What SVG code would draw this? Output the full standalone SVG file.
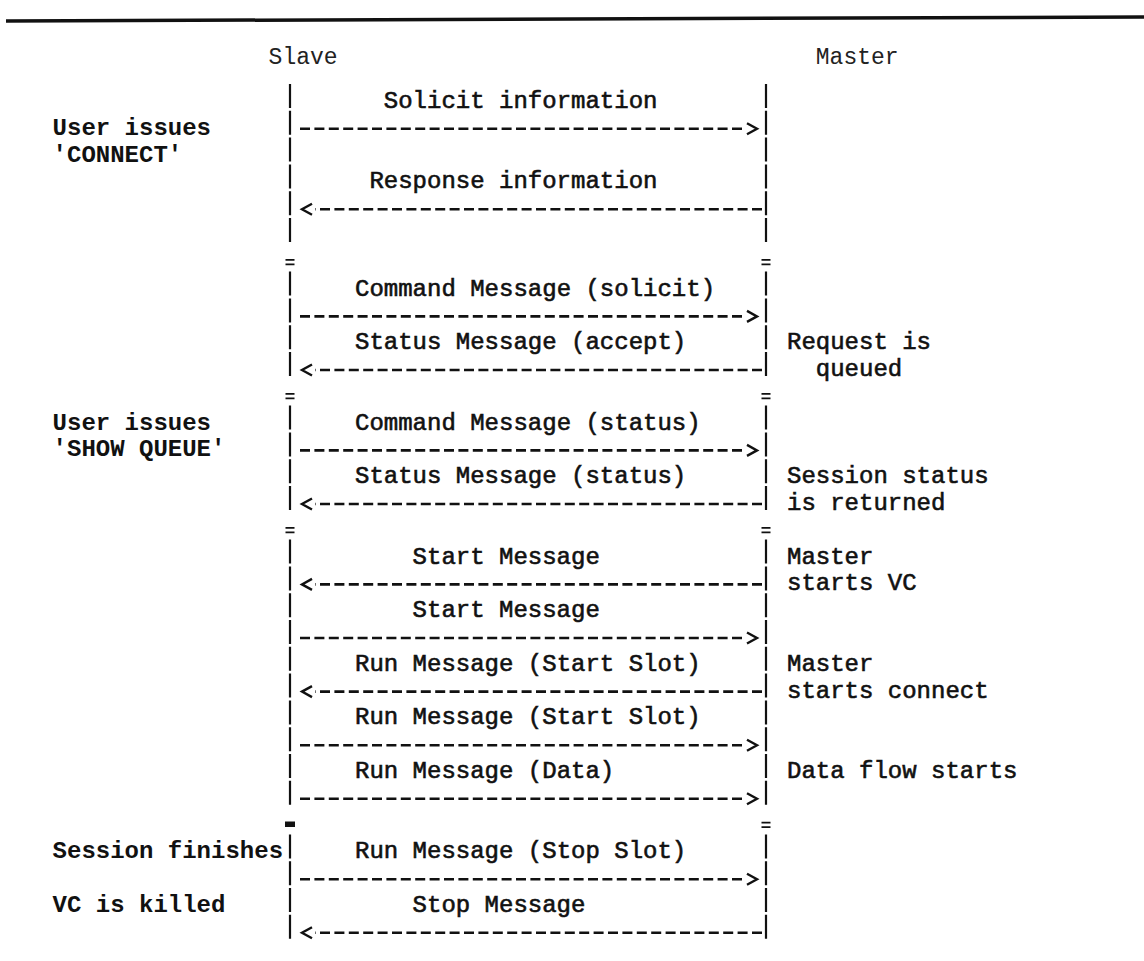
<svg xmlns="http://www.w3.org/2000/svg" width="1144" height="961" viewBox="0 0 1144 961">
<style>
.t{font-family:"Liberation Mono","Courier New",monospace;font-size:24px;fill:#111;stroke:#111;stroke-width:0.6}
.n{font-family:"Liberation Mono","Courier New",monospace;font-size:24px;fill:#111;font-weight:bold}
.h{font-family:"Liberation Mono","Courier New",monospace;font-size:23px;fill:#222}
.life{stroke:#111;stroke-width:2.2;stroke-dasharray:24 2.8;fill:none}
.eq{stroke:#111;stroke-width:1.8}
.msg{stroke:#111;stroke-width:2.6;stroke-dasharray:10 4.4;fill:none}
</style>
<defs>
<marker id="ah" markerUnits="userSpaceOnUse" markerWidth="16" markerHeight="14" viewBox="0 0 16 14" refX="-1" refY="7" orient="auto" overflow="visible">
<path d="M2,1.5 L12,7 L2,12.5" fill="none" stroke="#111" stroke-width="2.4"/>
</marker>
</defs>
<rect width="1144" height="961" fill="#fff"/>
<line x1="6" y1="21" x2="1144" y2="17" stroke="#111" stroke-width="3.5"/>

<g id="slave">
<text class="h" x="268.6" y="64">Slave</text>
<line class="life" x1="290" y1="84" x2="290" y2="242"/>
<line class="life" x1="290" y1="271.6" x2="290" y2="376"/>
<line class="life" x1="290" y1="405.6" x2="290" y2="510"/>
<line class="life" x1="290" y1="539.6" x2="290" y2="805"/>
<line class="life" x1="290" y1="834.4" x2="290" y2="939"/>
<path class="eq" d="M285.5,259.8h9M285.5,264.3h9M285.5,393.8h9M285.5,398.3h9M285.5,527.8h9M285.5,532.3h9"/>
<rect x="285" y="821.5" width="10" height="5.5" fill="#111"/>
</g>

<g id="master">
<text class="h" x="815.8" y="64">Master</text>
<line class="life" x1="766" y1="84" x2="766" y2="242"/>
<line class="life" x1="766" y1="271.6" x2="766" y2="376"/>
<line class="life" x1="766" y1="405.6" x2="766" y2="510"/>
<line class="life" x1="766" y1="539.6" x2="766" y2="805"/>
<line class="life" x1="766" y1="834.4" x2="766" y2="939"/>
<path class="eq" d="M761.5,259.8h9M761.5,264.3h9M761.5,393.8h9M761.5,398.3h9M761.5,527.8h9M761.5,532.3h9M761.5,822.6h9M761.5,827.1h9"/>
</g>

<g id="connectors">
<line class="msg" x1="300" y1="128.8" x2="744" y2="128.8" marker-end="url(#ah)"/>
<line class="msg" x1="762" y1="209.2" x2="315" y2="209.2" marker-end="url(#ah)"/>
<line class="msg" x1="300" y1="316.4" x2="744" y2="316.4" marker-end="url(#ah)"/>
<line class="msg" x1="762" y1="370" x2="315" y2="370" marker-end="url(#ah)"/>
<line class="msg" x1="300" y1="450.4" x2="744" y2="450.4" marker-end="url(#ah)"/>
<line class="msg" x1="762" y1="504" x2="315" y2="504" marker-end="url(#ah)"/>
<line class="msg" x1="762" y1="584.4" x2="315" y2="584.4" marker-end="url(#ah)"/>
<line class="msg" x1="300" y1="638" x2="744" y2="638" marker-end="url(#ah)"/>
<line class="msg" x1="762" y1="691.6" x2="315" y2="691.6" marker-end="url(#ah)"/>
<line class="msg" x1="300" y1="745.2" x2="744" y2="745.2" marker-end="url(#ah)"/>
<line class="msg" x1="300" y1="798.8" x2="744" y2="798.8" marker-end="url(#ah)"/>
<line class="msg" x1="300" y1="879.2" x2="744" y2="879.2" marker-end="url(#ah)"/>
<line class="msg" x1="762" y1="932.8" x2="315" y2="932.8" marker-end="url(#ah)"/>
</g>

<g id="message-labels">
<text class="t" x="383.8" y="108">Solicit information</text>
<text class="t" x="369.4" y="188.4">Response information</text>
<text class="t" x="355" y="295.6">Command Message (solicit)</text>
<text class="t" x="355" y="349.2">Status Message (accept)</text>
<text class="t" x="355" y="429.6">Command Message (status)</text>
<text class="t" x="355" y="483.2">Status Message (status)</text>
<text class="t" x="412.6" y="563.6">Start Message</text>
<text class="t" x="412.6" y="617.2">Start Message</text>
<text class="t" x="355" y="670.8">Run Message (Start Slot)</text>
<text class="t" x="355" y="724.4">Run Message (Start Slot)</text>
<text class="t" x="355" y="778">Run Message (Data)</text>
<text class="t" x="355" y="858.4">Run Message (Stop Slot)</text>
<text class="t" x="412.6" y="912">Stop Message</text>
</g>

<g id="slave-notes">
<text class="n" x="52.6" y="134.8">User issues</text>
<text class="n" x="52.6" y="161.6">'CONNECT'</text>
<text class="n" x="52.6" y="429.6">User issues</text>
<text class="n" x="52.6" y="456.4">'SHOW QUEUE'</text>
<text class="n" x="52.6" y="858.4">Session finishes</text>
<text class="n" x="52.6" y="912">VC is killed</text>
</g>

<g id="master-notes">
<text class="t" x="787" y="349.2">Request is</text>
<text class="t" x="815.8" y="376">queued</text>
<text class="t" x="787" y="483.2">Session status</text>
<text class="t" x="787" y="510">is returned</text>
<text class="t" x="787" y="563.6">Master</text>
<text class="t" x="787" y="590.4">starts VC</text>
<text class="t" x="787" y="670.8">Master</text>
<text class="t" x="787" y="697.6">starts connect</text>
<text class="t" x="787" y="778">Data flow starts</text>
</g>
</svg>
